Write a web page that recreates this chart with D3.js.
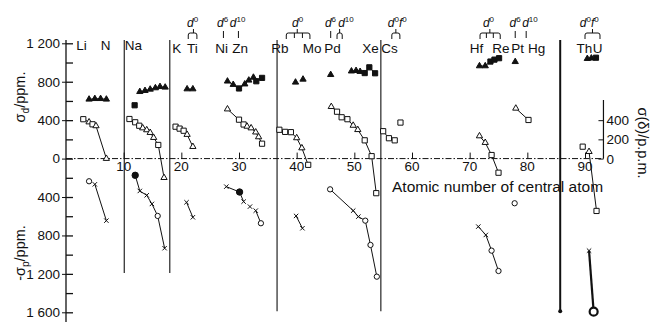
<!DOCTYPE html>
<html>
<head>
<meta charset="utf-8">
<script src="https://cdn.jsdelivr.net/npm/d3@7"></script>
<style>
  body { margin: 0; background: #fff; }
  svg { display: block; font-family: "Liberation Sans", Arial, sans-serif; }
</style>
</head>
<body>
<svg id="chart" width="650" height="324"></svg>
<script>
// each point: [atomic number Z, shift in ppm, marker]
// markers: t triangle, s square, o open circle, f filled circle, O bold circle, x cross

// diamagnetic term (filled symbols)
const sigmaD = [
  [[4, 617, 't'], [5, 623, 't'], [6, 623, 't'], [7, 617, 't']],
  [[11.9, 555, 's']],
  [[12.8, 696, 't'], [13.7, 707, 't'], [14.6, 721, 't'], [15.5, 735, 't'], [16.3, 748, 't'], [17.2, 742, 't']],
  [[21, 724, 't'], [22, 724, 't']],
  [[28, 805, 't'], [29, 770, 't'], [30, 730, 's'], [31, 775, 't'], [31.7, 815, 't'], [32.5, 845, 't'], [33, 805, 's'], [34, 840, 's']],
  [[39.8, 794, 't']],
  [[41.1, 825, 't']],
  [[45.9, 873, 't']],
  [[49.5, 910, 't'], [50.3, 915, 't'], [51, 905, 't'], [51.8, 890, 's'], [52.6, 950, 's'], [53.6, 888, 's']],
  [[71.7, 964, 't'], [72.7, 964, 't'], [73.6, 1010, 's'], [74.3, 1030, 's'], [75.1, 1045, 's']],
  [[77.9, 1008, 't']],
  [[90.4, 1040, 't'], [91.1, 1045, 't'], [91.9, 1050, 's']]
];

// sigma(delta), right axis (open symbols)
const sigmaDelta = [
  [[3, 410, 's'], [4, 380, 't'], [4.6, 357, 's'], [5.2, 340, 't'], [7, 0, 't']],
  [[11, 412, 's'], [12, 378, 's'], [12.7, 342, 's'], [13.3, 318, 't'], [14, 298, 't'], [14.6, 270, 't'], [15.2, 218, 't'], [16, 142, 's'], [17, -199, 't']],
  [[19, 332, 's'], [19.7, 312, 's'], [20.4, 290, 's'], [21, 250, 't'], [22, 124, 't']],
  [[28, 515, 't'], [30, 405, 's'], [30.8, 355, 's'], [31.4, 335, 't'], [32.1, 318, 't'], [32.9, 275, 't'], [33.4, 225, 't'], [34, 155, 's']],
  [[37, 300, 's'], [38, 278, 's'], [39, 275, 's'], [40, 215, 't'], [40.9, 110, 't'], [42, -65, 's']],
  [[46, 540, 't'], [47, 488, 's'], [47.8, 430, 's'], [48.8, 410, 's'], [49.8, 345, 't'], [50.6, 300, 't'], [51.8, 190, 's'], [53, 25, 's'], [53.8, -360, 's']],
  [[55, 285, 's'], [56, 212, 's'], [57, 190, 's']],
  [[58, 375, 's']],
  [[71.7, 235, 't'], [72.7, 166, 't'], [73.8, 37, 's'], [75, -147, 's']],
  [[78, 523, 't'], [80.2, 402, 's']],
  [[89.6, 124, 's']],
  [[90.7, 72, 't'], [92, -545, 's']]
];

// paramagnetic term, plotted downwards as -sigma_p
const sigmaP = [
  [[4, -236, 'o']],
  [[5, -268, 'x'], [7, -646, 'x']],
  [[12, -174, 'f'], [12.8, -337, 'x'], [14, -382, 'x'], [14.9, -472, 'x'], [15.9, -597, 'o'], [17.1, -933, 'x']],
  [[20.9, -455, 'x'], [22, -611, 'x']],
  [[27.8, -292, 'x'], [30.1, -348, 'f'], [30.8, -448, 'x']],
  [[31.9, -500, 'x']],
  [[32.9, -542, 'x'], [33.8, -673, 'o']],
  [[39.9, -597, 'x'], [41, -725, 'x']],
  [[45.8, -320, 'o'], [49.8, -542, 'x'], [50.7, -604, 'x'], [51.9, -646, 'o'], [52.8, -899, 'o'], [53.9, -1229, 'o']],
  [[71.5, -708, 'x'], [72.8, -795, 'x'], [73.8, -958, 'o'], [75, -1170, 'o']],
  [[77.8, -465, 'o']],
  [[90.7, -958, 'x'], [91.5, -1593, 'O']]
];

// axes
const leftMajor = [1200, 800, 400, 0, -400, -800, -1200, -1600];
const leftMinor = [1000, 600, 200, -200, -600, -1000, -1400];
const rightTicks = [0, 200, 400];
const xTicks = [10, 20, 30, 40, 50, 60, 70, 80, 90];

// period boundaries (Z) and how far down they go
const separatorZ = [10.1, 18, 36.6, 54.6, 85.7];
const separatorEnd = [-1190, -1190, -1590, -1590, -1590];

// element symbols along the top
const elements = ['Li', 'N', 'Na', 'K', 'Ti', 'Ni', 'Zn', 'Rb', 'Mo', 'Pd', 'Xe', 'Cs', 'Hf', 'Re', 'Pt', 'Hg', 'Th', 'U'];
const elementZ = [2.7, 6.85, 11.7, 19.2, 21.9, 27.0, 30.2, 37.1, 42.7, 46.2, 52.8, 56.1, 71.2, 75.4, 78.3, 81.6, 89.9, 92.2];

// electron configuration notes: [d exponent, f exponent, Z at left edge of note]
const configText = [
  ['0', null, 21.0], ['6', null, 26.2], ['10', null, 28.4], ['0', null, 39.2],
  ['6', null, 44.9], ['10', null, 47.2], ['0', '0', 55.8], ['0', null, 72.3],
  ['6', null, 76.9], ['10', null, 79.1], ['0', '0', 89.1]
];
// brackets under the notes: [stem Z, leg Zs]
const configLegs = [
  [22.1, [21.2, 22.7]], [27.3, [27.3]], [29.9, [29.9]], [40.1, [38.2, 39.6, 41, 42.3]],
  [45.9, [45.9]], [47.45, [47, 47.9]], [57.2, [56.5, 57.9]], [73.5, [71.8, 72.9, 74.1, 75.3]],
  [77.9, [77.9]], [79.8, [79.8]], [91.3, [90, 92.6]]
];

const ink = '#111';
const svg = d3.select('#chart');

const x = d3.scaleLinear().domain([0, 90]).range([66, 585]);
const y = d3.scaleLinear().domain([-1600, 1200]).range([312.3, 43.3]);
const rightX = x(93.2);

const fmtTick = v => v >= 1000 ? d3.format(',')(v).replace(',', ' ') : String(v);

// period separators
svg.append('g').selectAll('line')
  .data(separatorZ)
  .join('line')
  .attr('x1', d => x(d)).attr('x2', d => x(d))
  .attr('y1', y(1235))
  .attr('y2', (d, i) => y(separatorEnd[i]))
  .attr('stroke', ink)
  .attr('stroke-width', (d, i) => i === separatorZ.length - 1 ? 2 : 1.1);
svg.append('circle')
  .attr('cx', x(separatorZ[4])).attr('cy', y(separatorEnd[4]))
  .attr('r', 2).attr('fill', ink);

// left axis
const leftG = svg.append('g')
  .attr('transform', `translate(${x(0)},0)`)
  .attr('color', ink)
  .call(d3.axisLeft(y).tickValues(leftMajor).tickSize(4).tickPadding(2).tickFormat(d => fmtTick(Math.abs(d))));
leftG.select('.domain').remove();
leftG.selectAll('text').attr('font-size', 13.5).attr('font-family', '"Liberation Sans", Arial, sans-serif');
const leftIn = svg.append('g')
  .attr('transform', `translate(${x(0)},0)`)
  .attr('color', ink)
  .call(d3.axisRight(y).tickValues(leftMajor.concat(leftMinor)).tickSize(7).tickFormat(''));
leftIn.select('.domain').remove();
leftIn.selectAll('line').attr('stroke-width', 1.3);
svg.append('line')
  .attr('x1', x(0)).attr('x2', x(0))
  .attr('y1', y(1235)).attr('y2', 322)
  .attr('stroke', ink).attr('stroke-width', 1.3);

// x axis (dash-dot zero line)
svg.append('line')
  .attr('x1', x(0)).attr('x2', rightX)
  .attr('y1', y(0)).attr('y2', y(0))
  .attr('stroke', ink).attr('stroke-width', 1)
  .attr('stroke-dasharray', '6,2,1.5,2');
const xG = svg.append('g')
  .attr('transform', `translate(0,${y(0)})`)
  .attr('color', ink)
  .call(d3.axisTop(x).tickValues(xTicks).tickSize(6).tickFormat(''));
xG.select('.domain').remove();
svg.append('g').selectAll('text')
  .data(xTicks)
  .join('text')
  .attr('x', d => x(d)).attr('y', y(0) + 12)
  .attr('text-anchor', 'middle')
  .attr('font-size', 13.5).attr('fill', ink)
  .text(d => d);

// right axis for sigma(delta)
const rightG = svg.append('g')
  .attr('transform', `translate(${rightX},0)`)
  .attr('color', ink)
  .call(d3.axisLeft(y).tickValues(rightTicks).tickSize(5).tickFormat(''));
rightG.select('.domain').remove();
svg.append('line')
  .attr('x1', rightX).attr('x2', rightX)
  .attr('y1', y(0)).attr('y2', y(610))
  .attr('stroke', ink).attr('stroke-width', 1.2);
svg.append('g').selectAll('text')
  .data(rightTicks)
  .join('text')
  .attr('x', rightX + 3).attr('y', d => y(d) + 5)
  .attr('font-size', 13.5).attr('fill', ink)
  .text(d => d);

// axis titles
const title = (tx, ty, rot, main, sub, rest, size) => {
  const t = svg.append('text')
    .attr('transform', `translate(${tx},${ty}) rotate(${rot})`)
    .attr('text-anchor', 'middle')
    .attr('font-size', size).attr('fill', ink);
  t.append('tspan').text(main);
  if (sub) t.append('tspan').attr('dy', 4).attr('font-size', size * 0.7).text(sub);
  t.append('tspan').attr('dy', sub ? -4 : 0).text(rest);
};
title(25, 97, -90, 'σ', 'd', '/ppm.', 14.5);
title(25, 253, -90, '-σ', 'p', '/ppm.', 14.5);
title(638, 143, 90, 'σ(δ)/p.p.m.', null, '', 14.5);

svg.append('text')
  .attr('x', 392).attr('y', 192)
  .attr('font-size', 15.5).attr('fill', ink)
  .text('Atomic number of central atom');

// element symbols
svg.append('g').selectAll('text')
  .data(elements)
  .join('text')
  .attr('x', (d, i) => x(elementZ[i]))
  .attr('y', (d, i) => i < 3 ? 50 : 53)
  .attr('text-anchor', 'middle')
  .attr('font-size', 13.5).attr('fill', ink)
  .text(d => d);

// configuration notes
const notes = svg.append('g').selectAll('text')
  .data(configText)
  .join('text')
  .attr('x', d => x(d[2])).attr('y', 27)
  .attr('font-size', 12).attr('font-style', 'italic').attr('fill', ink);
notes.append('tspan').text('d');
notes.append('tspan').attr('dy', -5).attr('font-size', 8).attr('font-style', 'normal').text(d => d[0]);
notes.filter(d => d[1]).append('tspan').attr('dy', 5).text('f');
notes.filter(d => d[1]).append('tspan').attr('dy', -5).attr('font-size', 8).attr('font-style', 'normal').text(d => d[1]);

svg.append('g').selectAll('path')
  .data(configLegs)
  .join('path')
  .attr('fill', 'none').attr('stroke', ink).attr('stroke-width', 1)
  .attr('d', ([stem, legs]) => {
    if (legs.length === 1) return `M${x(legs[0])},31V38`;
    const a = x(legs[0]), b = x(legs[legs.length - 1]);
    let p = `M${x(stem)},29V33M${a},39V35Q${a},33 ${a + 2},33H${b - 2}Q${b},33 ${b},35V39`;
    legs.slice(1, -1).forEach(l => { p += `M${x(l)},33V38`; });
    return p;
  });

// data
const shapes = {
  t: d3.symbol(d3.symbolTriangle, 17)(),
  s: d3.symbol(d3.symbolSquare, 27)(),
  o: d3.symbol(d3.symbolCircle, 22)(),
  f: d3.symbol(d3.symbolCircle, 32)(),
  O: d3.symbol(d3.symbolCircle, 50)(),
  x: 'M-2.2,-2.2L2.2,2.2M-2.2,2.2L2.2,-2.2'
};
const line = d3.line().x(d => x(d[0])).y(d => y(d[1]));

function drawSeries(groups, filled) {
  const g = svg.append('g');
  g.selectAll('path.link')
    .data(groups.filter(p => p.length > 1))
    .join('path')
    .attr('class', 'link')
    .attr('d', line)
    .attr('fill', 'none').attr('stroke', ink)
    .attr('stroke-width', p => p.some(d => d[2] === 'O') ? 2.2 : 1);
  g.selectAll('path.mark')
    .data(groups.flat())
    .join('path')
    .attr('class', 'mark')
    .attr('transform', d => `translate(${x(d[0])},${y(d[1])})`)
    .attr('d', d => shapes[d[2]])
    .attr('fill', d => d[2] === 'x' ? 'none' : (filled || d[2] === 'f') ? ink : '#fff')
    .attr('stroke', ink)
    .attr('stroke-width', d => d[2] === 'O' ? 2.2 : 1);
}
drawSeries(sigmaD, true);
drawSeries(sigmaDelta, false);
drawSeries(sigmaP, false);
</script>
</body>
</html>
